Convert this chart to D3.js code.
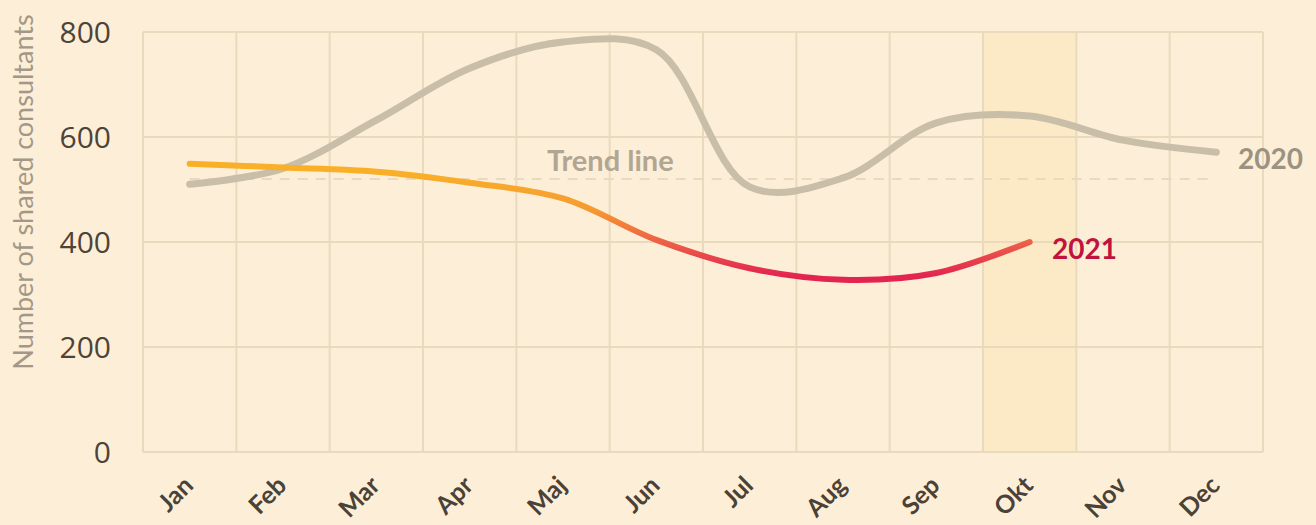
<!DOCTYPE html>
<html>
<head>
<meta charset="utf-8">
<script src="https://cdn.jsdelivr.net/npm/d3@7"></script>
<style>
  body { margin: 0; background: #fdefd7; }
  svg { display: block; font-family: Lato, "Noto Sans", sans-serif; }
</style>
</head>
<body>
<script>
var months = ["Jan","Feb","Mar","Apr","Maj","Jun","Jul","Aug","Sep","Okt","Nov","Dec"];
var values2020 = [510, 540, 632, 731, 781, 766, 505, 522, 627, 640, 594, 571];
var values2021 = [549, 542, 534, 513, 483, 404, 350, 328, 341, 400];
var trendValue = 520;
var yTicks = [0, 200, 400, 600, 800];
var highlightMonth = "Okt";

var width = 1316, height = 525;

var svg = d3.select("body").append("svg")
    .attr("width", width)
    .attr("height", height)
    .style("background", "#fdefd7");

var x = d3.scaleBand()
    .domain(months)
    .range([143, 1263]);

var y = d3.scaleLinear()
    .domain([0, 800])
    .range([452, 32]);

function cx(m) { return x(m) + x.bandwidth() / 2; }

// highlighted month
svg.append("rect")
    .attr("x", x(highlightMonth))
    .attr("y", y(800))
    .attr("width", x.bandwidth())
    .attr("height", y(0) - y(800))
    .attr("fill", "#fce9c5");

// grid
var grid = svg.append("g").attr("stroke", "#e9d9bd").attr("stroke-width", 2);
grid.selectAll("line.h").data(yTicks).enter().append("line")
    .attr("x1", 143).attr("x2", 1263)
    .attr("y1", function(d){ return y(d); })
    .attr("y2", function(d){ return y(d); });
grid.selectAll("line.v").data(months.concat(["end"])).enter().append("line")
    .attr("x1", function(d,i){ return 143 + i * x.bandwidth(); })
    .attr("x2", function(d,i){ return 143 + i * x.bandwidth(); })
    .attr("y1", y(0)).attr("y2", y(800));

// y axis
var yAxis = d3.axisLeft(y).tickValues(yTicks).tickSize(0).tickPadding(0);
var gy = svg.append("g")
    .attr("transform", "translate(111,0)")
    .call(yAxis);
gy.select(".domain").remove();
gy.selectAll("text")
    .attr("fill", "#4d4439")
    .attr("font-family", "'Open Sans', Lato, sans-serif")
    .attr("font-size", 30)
    .attr("dy", "0.36em");

svg.append("text")
    .attr("transform", "translate(33,192) rotate(-90)")
    .attr("text-anchor", "middle")
    .attr("font-size", 27)
    .attr("fill", "#a39887")
    .text("Number of shared consultants");

// x labels
var xAxis = d3.axisBottom(x).tickSize(0).tickPadding(0);
var gx = svg.append("g")
    .call(xAxis);
gx.select(".domain").remove();
gx.selectAll(".tick").attr("transform", null);
gx.selectAll(".tick text")
    .attr("text-anchor", "end")
    .attr("font-family", "Lato, sans-serif")
    .attr("font-size", 25)
    .attr("font-weight", "bold")
    .attr("fill", "#4a4137")
    .attr("dy", null)
    .attr("y", null)
    .attr("transform", function(d){ return "translate(" + (cx(d) + 5) + ",487) rotate(-45)"; });

// trend line
svg.append("line")
    .attr("x1", cx("Jan")).attr("x2", cx("Dec") - 4)
    .attr("y1", y(trendValue)).attr("y2", y(trendValue))
    .attr("stroke", "#e8d9bf")
    .attr("stroke-width", 2)
    .attr("stroke-dasharray", "10,8");

svg.append("text")
    .attr("x", 547).attr("y", 171)
    .attr("font-size", 29)
    .attr("font-weight", "bold")
    .attr("fill", "#b0a693")
    .text("Trend line");

var line = d3.line()
    .x(function(d,i){ return cx(months[i]); })
    .y(function(d){ return y(d); })
    .curve(d3.curveCatmullRom);

// gradient for 2021
var grad = svg.append("defs").append("linearGradient")
    .attr("id", "g2021")
    .attr("gradientUnits", "userSpaceOnUse")
    .attr("x1", 0).attr("x2", 0)
    .attr("y1", y(530)).attr("y2", y(335));
grad.append("stop").attr("offset", "0%").attr("stop-color", "#f9af28");
grad.append("stop").attr("offset", "35%").attr("stop-color", "#f59a31");
grad.append("stop").attr("offset", "70%").attr("stop-color", "#ec5a48");
grad.append("stop").attr("offset", "100%").attr("stop-color", "#e3244f");

svg.append("path")
    .datum(values2020)
    .attr("d", line)
    .attr("fill", "none")
    .attr("stroke", "#c9bea8")
    .attr("stroke-width", 7)
    .attr("stroke-linecap", "round");

svg.append("path")
    .datum(values2021)
    .attr("d", line)
    .attr("fill", "none")
    .attr("stroke", "url(#g2021)")
    .attr("stroke-width", 6)
    .attr("stroke-linecap", "round");

svg.append("text")
    .attr("x", 1238).attr("y", 169)
    .attr("font-size", 28)
    .attr("font-weight", "bold")
    .attr("fill", "#9c9282")
    .text("2020");

svg.append("text")
    .attr("x", 1052).attr("y", 259)
    .attr("font-size", 28)
    .attr("font-weight", "bold")
    .attr("fill", "#c0143e")
    .text("2021");
</script>
</body>
</html>
